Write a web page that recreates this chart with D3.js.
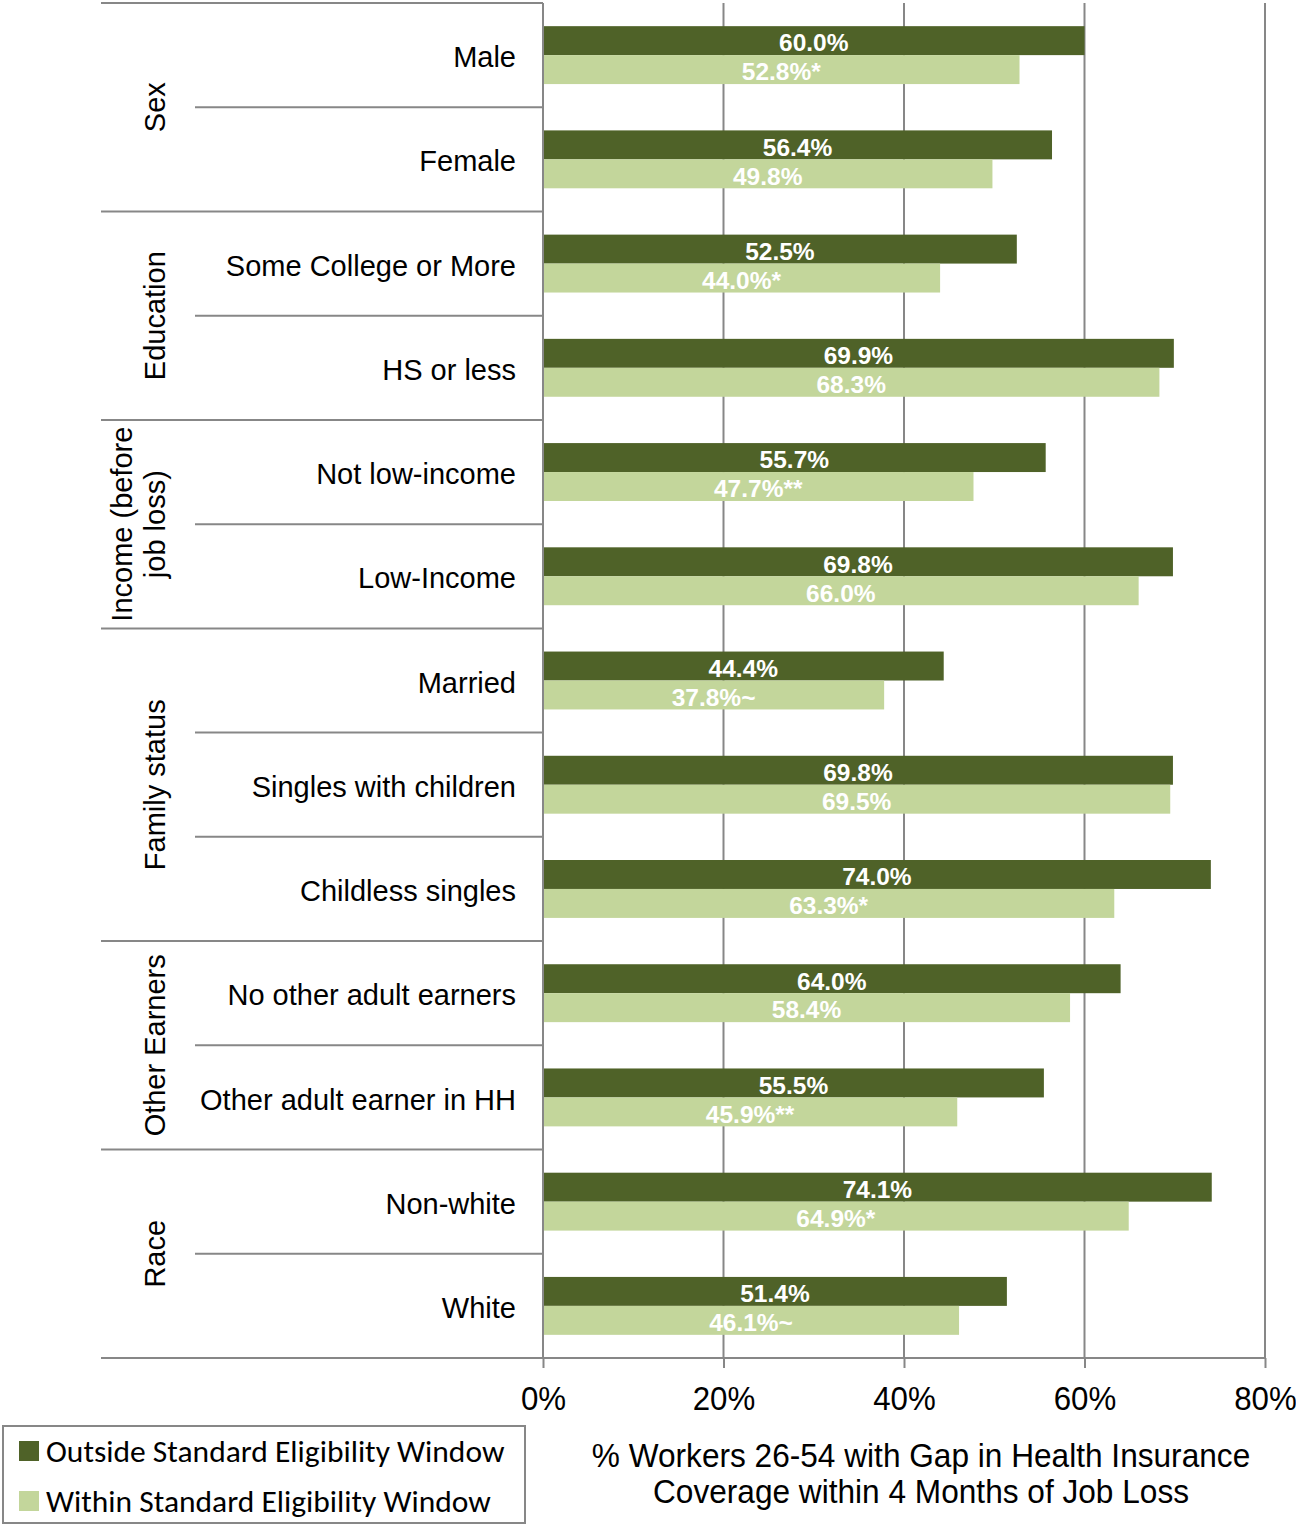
<!DOCTYPE html>
<html>
<head>
<meta charset="utf-8">
<script src="https://cdn.jsdelivr.net/npm/d3@7"></script>
<style>
  html, body { margin: 0; padding: 0; background: #fff; }
  svg { display: block; }
</style>
</head>
<body>
<svg id="chart" width="1296" height="1526"></svg>
<script>
// Categories, top to bottom
const categories = [
  "Male", "Female",
  "Some College or More", "HS or less",
  "Not low-income", "Low-Income",
  "Married", "Singles with children", "Childless singles",
  "No other adult earners", "Other adult earner in HH",
  "Non-white", "White"
];

// Groups of categories (label lines, number of rows)
const groupLabels = [
  ["Sex"],
  ["Education"],
  ["Income (before", "job loss)"],
  ["Family status"],
  ["Other Earners"],
  ["Race"]
];
const groupSizes = [2, 2, 2, 3, 2, 2];

const seriesNames = ["Outside Standard Eligibility Window", "Within Standard Eligibility Window"];

// % with gap in coverage, outside the standard eligibility window
const outsideValues = [60.0, 56.4, 52.5, 69.9, 55.7, 69.8, 44.4, 69.8, 74.0, 64.0, 55.5, 74.1, 51.4];
// % with gap in coverage, within the standard eligibility window
const withinValues  = [52.8, 49.8, 44.0, 68.3, 47.7, 66.0, 37.8, 69.5, 63.3, 58.4, 45.9, 64.9, 46.1];
// Significance markers on the within-window values
const withinMarks   = ["*", "", "*", "", "**", "", "~", "", "*", "", "**", "*", "~"];

const tickValues = [0, 20, 40, 60, 80];

const axisTitle = ["% Workers 26-54 with Gap in Health Insurance", "Coverage within 4 Months of Job Loss"];

const colors = ["#4f6228", "#c3d69b"];
const gridColor = "#878787";
const font = "'Liberation Sans', Arial, sans-serif";

const svg = d3.select("#chart");

const x = d3.scaleLinear().domain([0, 80]).range([543, 1265]);
const y = d3.scaleBand().domain(categories).range([3, 1358]).padding(0);
const ySeries = d3.scaleBand().domain([0, 1]).range([0, y.bandwidth()]).paddingInner(0).paddingOuter(0.8);

// Vertical gridlines
svg.append("g")
  .selectAll("line")
  .data(tickValues.slice(1))
  .join("line")
  .attr("x1", d => x(d)).attr("x2", d => x(d))
  .attr("y1", 3).attr("y2", 1358)
  .attr("stroke", gridColor).attr("stroke-width", 2);

// Bars
const rows = svg.append("g")
  .selectAll("g")
  .data(categories.map((c, i) => ({ c, vals: [outsideValues[i], withinValues[i]], mark: withinMarks[i] })))
  .join("g")
  .attr("transform", d => `translate(0,${y(d.c)})`);

rows.selectAll("rect")
  .data(d => d.vals.map((v, k) => ({ v, k })))
  .join("rect")
  .attr("x", x(0))
  .attr("y", d => ySeries(d.k))
  .attr("width", d => x(d.v) - x(0))
  .attr("height", ySeries.bandwidth())
  .attr("fill", d => colors[d.k]);

// Value labels, centred in each bar
rows.selectAll("text")
  .data(d => d.vals.map((v, k) => ({ v, k, t: d3.format(".1f")(v) + "%" + (k === 1 ? d.mark : "") })))
  .join("text")
  .attr("x", d => (x(0) + x(d.v)) / 2)
  .attr("y", d => ySeries(d.k) + ySeries.bandwidth() / 2 + 2)
  .attr("dy", "0.36em")
  .attr("text-anchor", "middle")
  .attr("font-family", font)
  .attr("font-weight", "bold")
  .attr("font-size", 24.5)
  .attr("fill", "#ffffff")
  .text(d => d.t);

// Category labels
svg.append("g")
  .selectAll("text")
  .data(categories)
  .join("text")
  .attr("x", 516)
  .attr("y", d => y(d) + y.bandwidth() / 2 + 2)
  .attr("dy", "0.35em")
  .attr("text-anchor", "end")
  .attr("font-family", font)
  .attr("font-size", 29)
  .attr("fill", "#000")
  .text(d => d);

// Row separators: full width at group boundaries, shorter inside a group
const groupStarts = [];
let acc = 0;
groupSizes.forEach(n => { groupStarts.push(acc); acc += n; });
const boundaryIdx = d3.range(categories.length + 1);
svg.append("g")
  .selectAll("line")
  .data(boundaryIdx)
  .join("line")
  .attr("x1", i => (groupStarts.includes(i) || i === categories.length) ? 101 : 195)
  .attr("x2", x(0))
  .attr("y1", i => i < categories.length ? y(categories[i]) : y.range()[1])
  .attr("y2", i => i < categories.length ? y(categories[i]) : y.range()[1])
  .attr("stroke", gridColor).attr("stroke-width", 2);

// Axis baseline across the plot
svg.append("line")
  .attr("x1", x(0)).attr("x2", x(80))
  .attr("y1", 1358).attr("y2", 1358)
  .attr("stroke", gridColor).attr("stroke-width", 2);

// Vertical category axis line
svg.append("line")
  .attr("x1", x(0)).attr("x2", x(0))
  .attr("y1", 3).attr("y2", 1358)
  .attr("stroke", gridColor).attr("stroke-width", 2);

// Group labels, rotated
svg.append("g")
  .selectAll("g")
  .data(groupLabels.map((lines, gi) => ({ lines, gi })))
  .join("g")
  .attr("transform", d => {
    const first = categories[groupStarts[d.gi]];
    const last = categories[groupStarts[d.gi] + groupSizes[d.gi] - 1];
    const cy = (y(first) + y(last) + y.bandwidth()) / 2;
    return `translate(155,${cy}) rotate(-90)`;
  })
  .each(function(d) {
    const n = d.lines.length;
    d3.select(this).selectAll("text")
      .data(d.lines)
      .join("text")
      .attr("x", 0)
      .attr("y", (t, i) => (i - (n - 1)) * 33)
      .attr("dy", "0.35em")
      .attr("text-anchor", "middle")
      .attr("font-family", font)
      .attr("font-size", 29)
      .attr("fill", "#000")
      .text(t => t);
  });

// Bottom value axis
const xAxis = d3.axisBottom(x)
  .tickValues(tickValues)
  .tickSize(10)
  .tickPadding(0)
  .tickFormat(d => d + "%");
const axisG = svg.append("g")
  .attr("transform", "translate(0,1358)")
  .call(xAxis);
axisG.select(".domain").remove();
axisG.selectAll(".tick line").attr("stroke", gridColor).attr("stroke-width", 2);
axisG.selectAll(".tick text")
  .attr("y", 0).attr("dy", 0)
  .attr("transform", "translate(0,52) scale(0.92,1)")
  .attr("font-family", font)
  .attr("font-size", 34)
  .attr("fill", "#000");

// Axis title
svg.append("g")
  .selectAll("g")
  .data(axisTitle)
  .join("g")
  .attr("transform", (d, i) => `translate(921,${1467 + i * 36}) scale(0.93,1)`)
  .append("text")
  .attr("text-anchor", "middle")
  .attr("font-family", font)
  .attr("font-size", 34)
  .attr("fill", "#000")
  .text(d => d);

// Legend
const legend = svg.append("g");
legend.append("rect")
  .attr("x", 3).attr("y", 1426)
  .attr("width", 522).attr("height", 97)
  .attr("fill", "#fff")
  .attr("stroke", gridColor).attr("stroke-width", 2);
const legendItems = legend.selectAll("g")
  .data(seriesNames)
  .join("g")
  .attr("transform", (d, i) => `translate(19,${1441 + i * 50})`);
legendItems.append("rect")
  .attr("width", 20).attr("height", 20)
  .attr("fill", (d, i) => colors[i]);
legendItems.append("text")
  .attr("x", 27).attr("y", 10)
  .attr("dy", "0.35em")
  .attr("font-family", "Carlito, Lato, 'Open Sans', sans-serif")
  .attr("font-size", 31.5)
  .attr("fill", "#000")
  .text(d => d);
</script>
</body>
</html>
